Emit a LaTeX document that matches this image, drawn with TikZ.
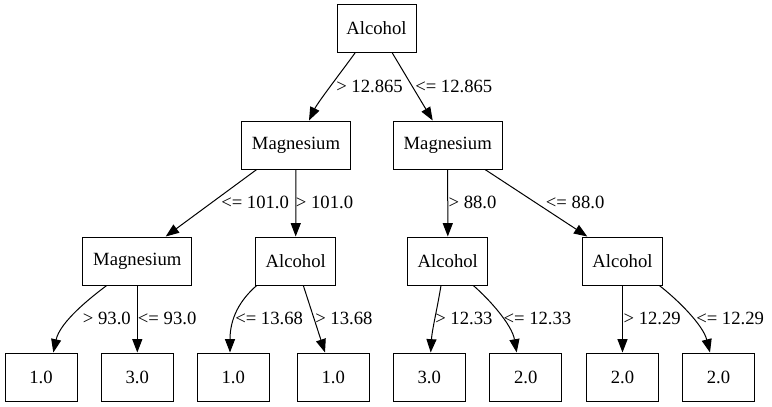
\documentclass[tikz,border=0pt]{standalone}
\usepackage{fontspec}
\setmainfont{Liberation Serif}
\usetikzlibrary{arrows.meta,calc}
\begin{document}
\begin{tikzpicture}[x=0.75pt,y=-0.75pt,
  box/.style={draw,line width=0.75pt,inner sep=0pt,minimum height=36pt,font=\fontsize{14}{16}\selectfont},
  leaf/.style={box,minimum width=54pt},
  alc/.style={box,minimum width=60pt},
  mag/.style={box,minimum width=81.75pt},
  edge/.style={line width=0.75pt,-{Triangle[length=10pt,width=7.5pt]}},
  lbl/.style={anchor=west,inner sep=0pt,font=\fontsize{14}{16}\selectfont}]
\useasboundingbox (0,0) rectangle (772,407);
% nodes
\node[box,minimum width=59.25pt] (root) at (376.5,28.5) {Alcohol};
\node[mag] (m1) at (296,145) {Magnesium};
\node[mag] (m2) at (447.7,145) {Magnesium};
\node[mag] (m3) at (137.3,261) {Magnesium};
\node[alc] (a1) at (295.7,261) {Alcohol};
\node[alc] (a2) at (447.8,261) {Alcohol};
\node[alc] (a3) at (622.5,261) {Alcohol};
\node[leaf] (l1) at (41,377) {1.0};
\node[leaf] (l2) at (137.3,377) {3.0};
\node[leaf] (l3) at (233.3,377) {1.0};
\node[leaf] (l4) at (333.3,377) {1.0};
\node[leaf] (l5) at (429.3,377) {3.0};
\node[leaf] (l6) at (525.8,377) {2.0};
\node[leaf] (l7) at (622.5,377) {2.0};
\node[leaf] (l8) at (718.5,377) {2.0};
% edges
\draw[edge] ($(root.south)+(-21.5,0)$) .. controls (345,67) and (318,102) .. ($(m1.north)+(13,0)$);
\draw[edge] ($(root.south)+(15.8,0)$) -- ($(m2.north)+(-15,0)$);
\draw[edge] ($(m1.south)+(-39.3,0)$) -- ($(m3.north)+(28.4,0)$);
\draw[edge] (m1.south) -- (a1.north);
\draw[edge] (m2.south) -- (a2.north);
\draw[edge] ($(m2.south)+(37.3,0)$) -- ($(a3.north)+(-35.2,0)$);
\draw[edge] ($(m3.south)+(-30.6,0)$) .. controls (90,298) and (60,322) .. ($(l1.north)+(12.3,0)$);
\draw[edge] (m3.south) -- (l2.north);
\draw[edge] ($(a1.south)+(-39,0)$) .. controls (240,300) and (230,318) .. ($(l3.north)+(-3.3,0)$);
\draw[edge] ($(a1.south)+(7.6,0)$) -- ($(l4.north)+(-8.3,0)$);
\draw[edge] ($(a2.south)+(-6.8,0)$) .. controls (437,310) and (432,330) .. ($(l5.north)+(1.4,0)$);
\draw[edge] ($(a2.south)+(25.5,0)$) .. controls (490,300) and (512,325) .. ($(l6.north)+(-9.1,0)$);
\draw[edge] (a3.south) -- (l7.north);
\draw[edge] ($(a3.south)+(36.8,0)$) .. controls (678,300) and (703,325) .. ($(l8.north)+(-8.5,0)$);
% labels
\node[lbl] (t1) at (336,86.7) {> 12.865};
\node[lbl] (t2) at (415,86.7) {<= 12.865};
\node[lbl] (t3) at (221,202.7) {<= 101.0};
\node[lbl] (t4) at (295.7,202.7) {> 101.0};
\node[lbl] (t5) at (448.3,202.7) {> 88.0};
\node[lbl] (t6) at (545.7,202.7) {<= 88.0};
\node[lbl] (t7) at (82.7,318.3) {> 93.0};
\node[lbl] (t8) at (137.7,318.3) {<= 93.0};
\node[lbl] (t9) at (235,318.3) {<= 13.68};
\node[lbl] (t10) at (315,318.3) {> 13.68};
\node[lbl] (t11) at (435,318.3) {> 12.33};
\node[lbl] (t12) at (503.3,318.3) {<= 12.33};
\node[lbl] (t13) at (623.3,318.3) {> 12.29};
\node[lbl] (t14) at (696,318.3) {<= 12.29};
\end{tikzpicture}
\end{document}
